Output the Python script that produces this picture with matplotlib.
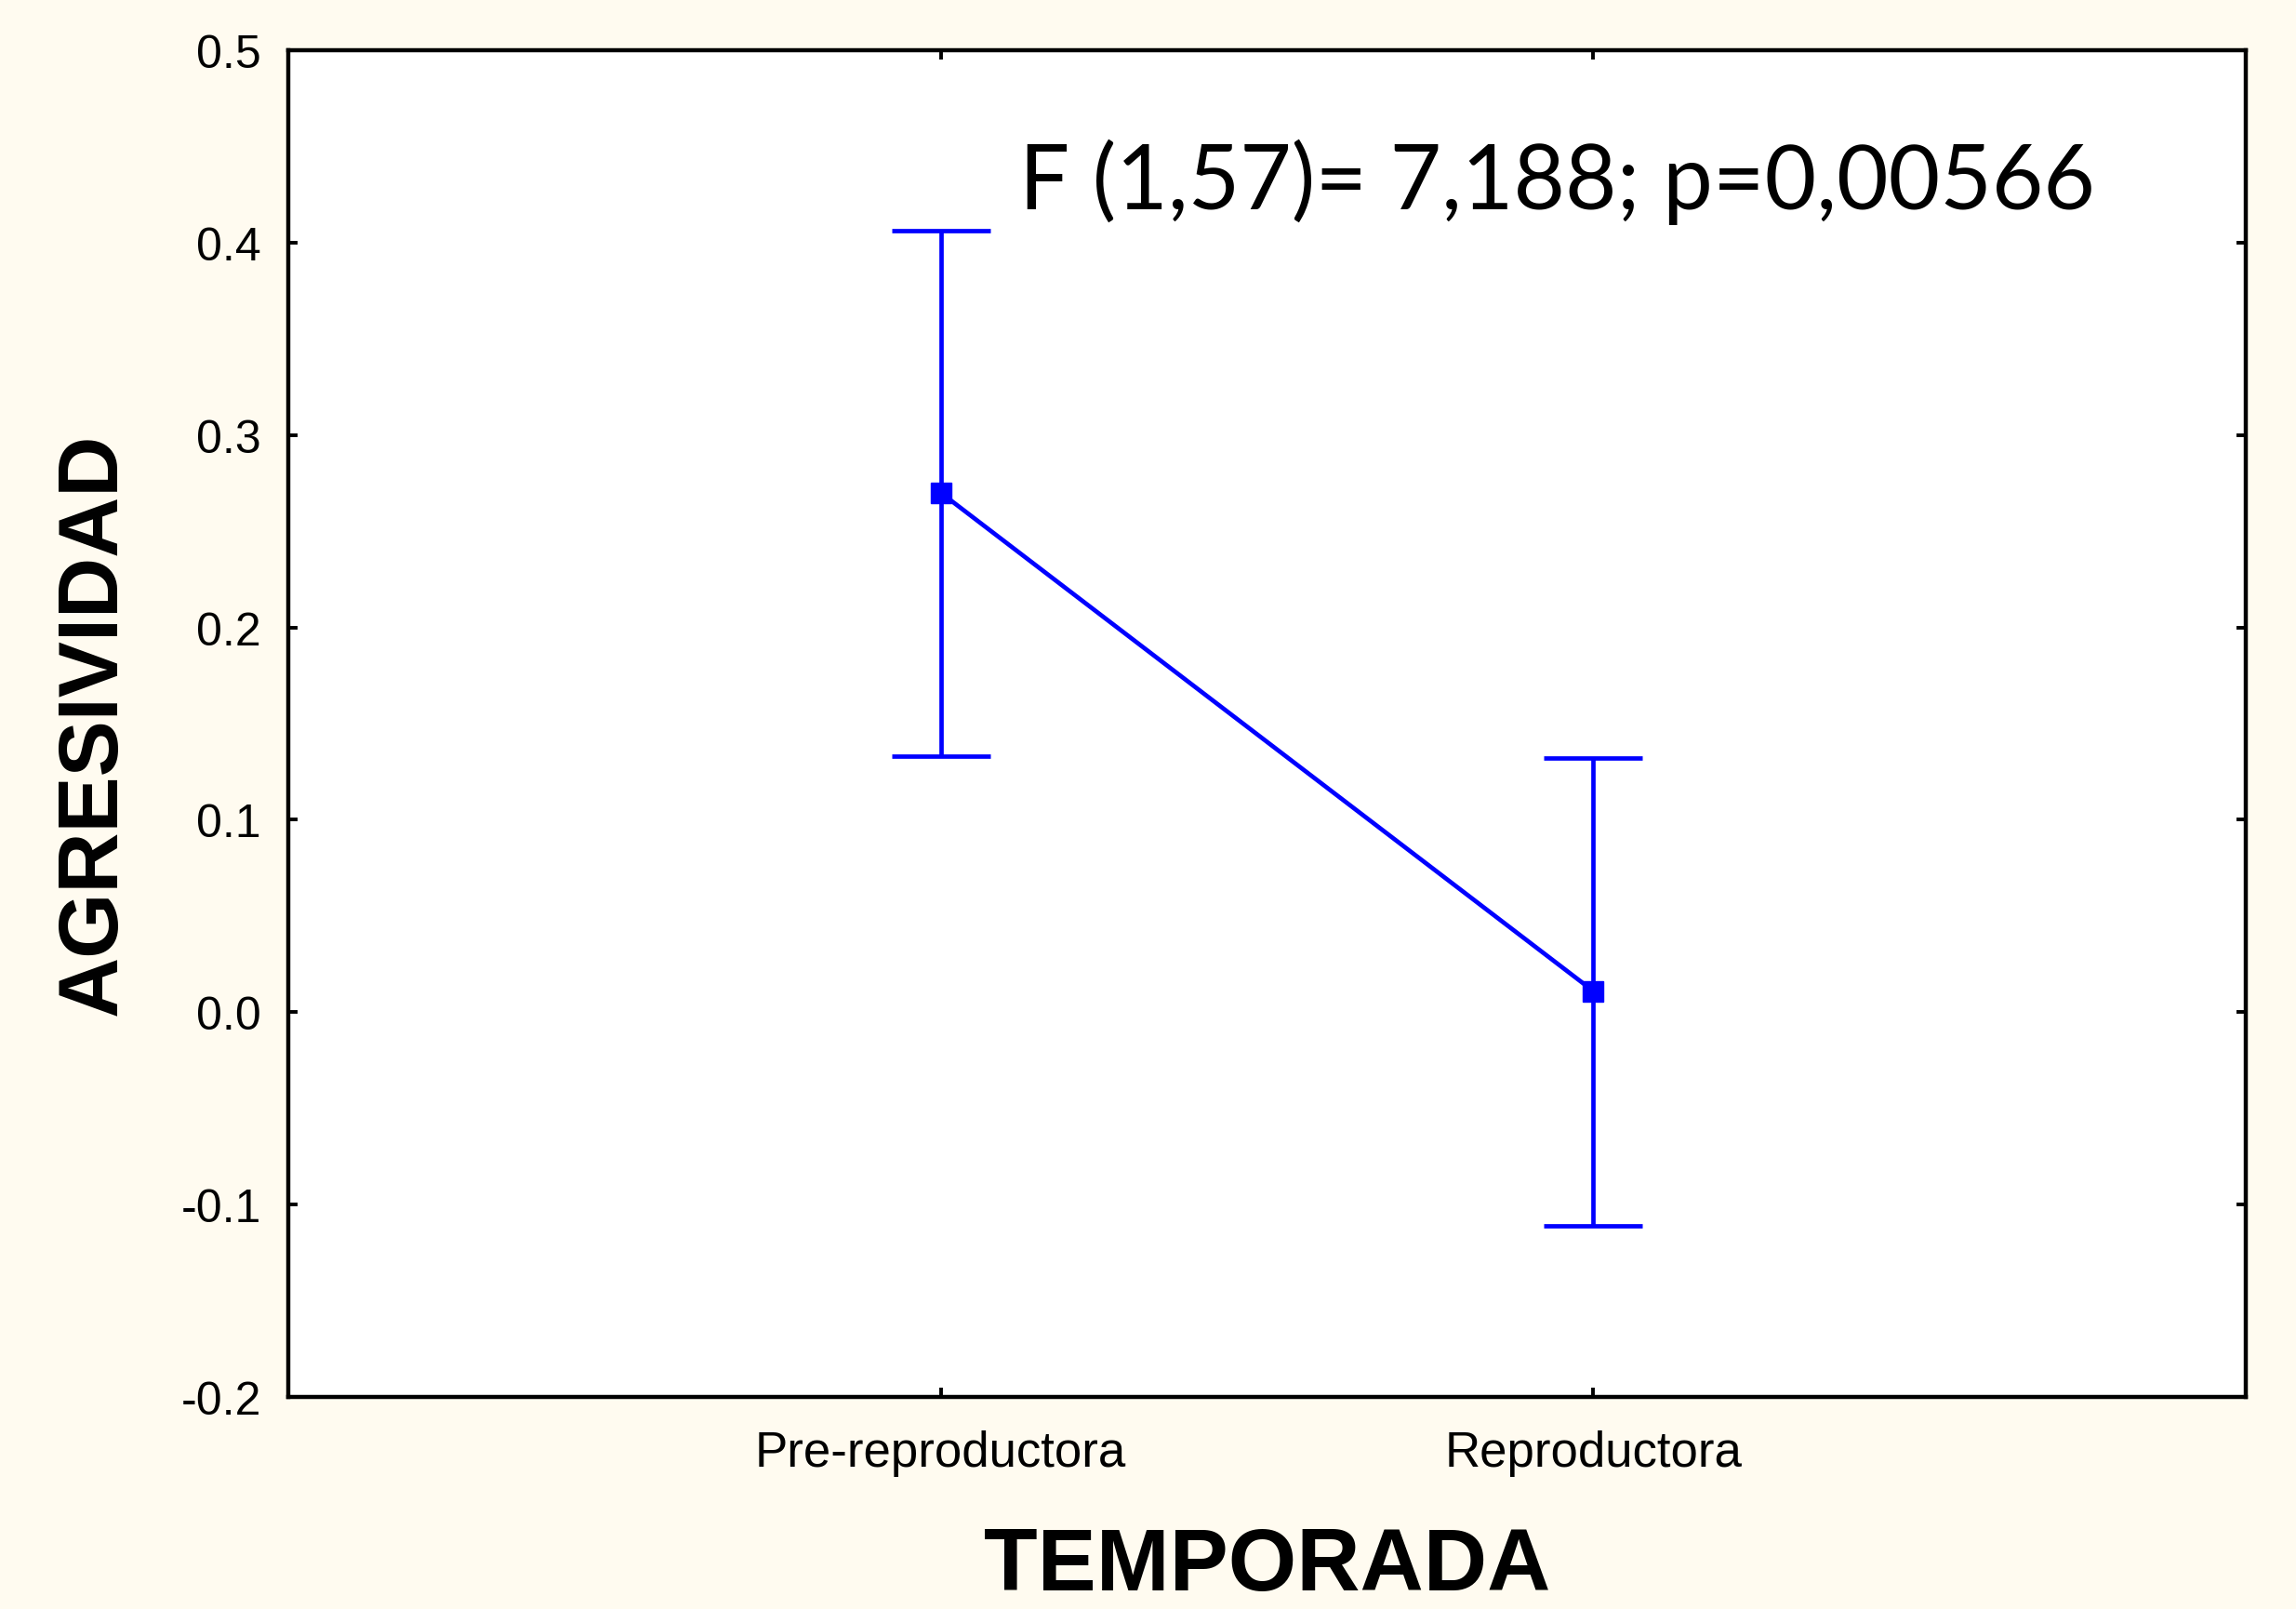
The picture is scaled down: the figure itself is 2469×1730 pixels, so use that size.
import numpy as np
import matplotlib
matplotlib.use("Agg")
import matplotlib.pyplot as plt

# data
categories = ["Pre-reproductora", "Reproductora"]
means = [0.270, 0.011]
upper = [0.406, 0.132]
lower = [0.133, -0.111]
y_ticks = [-0.2, -0.1, 0.0, 0.1, 0.2, 0.3, 0.4, 0.5]
stat_text = "F (1,57)= 7,188; p=0,00566"

BG = "#FFFBF0"
BLUE = "#0000FF"

plt.rcParams["font.family"] = ["Liberation Sans", "DejaVu Sans"]

fig = plt.figure(figsize=(24.69, 17.31), dpi=100, facecolor=BG)
ax = fig.add_axes([0.1256, 0.1317, 0.8525, 0.8365])
ax.set_facecolor("white")

x = np.arange(1, len(categories) + 1)
m = np.array(means)
yerr = np.vstack([m - np.array(lower), np.array(upper) - m])

ax.errorbar(x, m, yerr=yerr, color=BLUE, lw=3.4, elinewidth=3.4,
            capsize=38, capthick=3.4, marker="s", markersize=16,
            markerfacecolor=BLUE, markeredgecolor=BLUE)

ax.set_xlim(0, 3)
ax.set_ylim(-0.2, 0.5)
ax.set_xticks(x)
ax.set_xticklabels(categories)
ax.set_yticks(y_ticks)
ax.set_yticklabels([f"{v:.1f}" for v in y_ticks])

for s in ax.spines.values():
    s.set_linewidth(3.2)
    s.set_color("black")

ax.tick_params(axis="both", direction="in", length=7, width=2.8,
               top=True, right=True, colors="black")
ax.tick_params(axis="y", pad=21, labelsize=36)
ax.tick_params(axis="x", pad=25, labelsize=38)

ax.set_ylabel("AGRESIVIDAD", fontsize=65, fontweight="bold")
ax.yaxis.set_label_coords(-0.079, 0.5)
ax.set_xlabel("TEMPORADA", fontsize=68, fontweight="bold")
ax.xaxis.set_label_coords(0.5, -0.095)

ax.text(1.12, 0.418, stat_text, fontsize=69, family=["Lato", "DejaVu Sans"],
        va="baseline", ha="left", color="black")

fig.savefig("out.png", dpi=100, facecolor=BG)
